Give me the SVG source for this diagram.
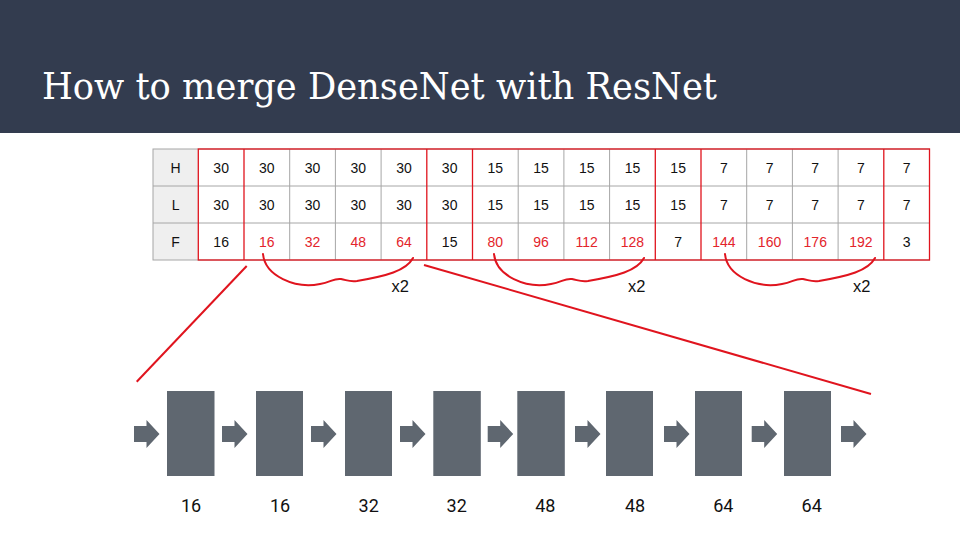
<svg xmlns="http://www.w3.org/2000/svg" xmlns:xlink="http://www.w3.org/1999/xlink" width="960" height="540" viewBox="0 0 960 540">
<style>
.t{font-family:"Liberation Sans",Arial,sans-serif;font-size:14px;fill:#111;text-anchor:middle}
.r{fill:#e3242b}
.g{stroke:#a6a6a6;stroke-width:1;fill:none}
.red{stroke:#e0141e;stroke-width:1.3;fill:none}
.brace{stroke:#e0141e;stroke-width:2;fill:none;stroke-linecap:round}
.conn{stroke:#e0141e;stroke-width:2;fill:none}
.x2{font-family:"Liberation Sans",Arial,sans-serif;font-size:16.5px;fill:#111}
.blk{fill:#5f6770}
.lbl{font-family:Roboto,"Liberation Sans",sans-serif;font-size:18px;fill:#111;text-anchor:middle}
</style>
<defs>
<path id="brace" d="M263,254 C265,276 295,289 320,284 C331,282 334,278 341,279 C347,280 349,282 357,281 C386,276 406,271 413,258"/>
<path id="arr" d="M0,426 H12.5 V420 L25.5,434 L12.5,448 V442 H0 Z"/>
</defs>
<rect x="0" y="0" width="960" height="133" fill="#333c4f"/>
<text x="42" y="99" font-family="'DejaVu Serif','Liberation Serif',serif" font-size="38" fill="#ffffff" textLength="675" lengthAdjust="spacingAndGlyphs">How to merge DenseNet with ResNet</text>

<g id="table">
<rect x="153" y="149" width="45.3" height="111" fill="#efefef"/>
<g class="g">
<rect x="153" y="149" width="776.5" height="111"/>
<line x1="153" y1="186" x2="929.5" y2="186"/>
<line x1="153" y1="223" x2="929.5" y2="223"/>
<path d="M289.7,149V260M335.4,149V260M381.1,149V260M518.2,149V260M563.9,149V260M609.6,149V260M746.7,149V260M792.4,149V260M838.1,149V260"/>
</g>
<g class="red">
<rect x="198.3" y="149" width="731.2" height="111"/>
<path d="M244,149V260M426.8,149V260M472.5,149V260M655.3,149V260M701,149V260M883.8,149V260"/>
</g>
<g class="t">
<text x="175.6" y="173">H</text>
<text x="175.6" y="210">L</text>
<text x="175.6" y="247">F</text>
<text x="221.15" y="173">30</text><text x="266.85" y="173">30</text><text x="312.55" y="173">30</text><text x="358.25" y="173">30</text><text x="403.95" y="173">30</text><text x="449.65" y="173">30</text><text x="495.35" y="173">15</text><text x="541.05" y="173">15</text><text x="586.75" y="173">15</text><text x="632.45" y="173">15</text><text x="678.15" y="173">15</text><text x="723.85" y="173">7</text><text x="769.55" y="173">7</text><text x="815.25" y="173">7</text><text x="860.95" y="173">7</text><text x="906.65" y="173">7</text>
<text x="221.15" y="210">30</text><text x="266.85" y="210">30</text><text x="312.55" y="210">30</text><text x="358.25" y="210">30</text><text x="403.95" y="210">30</text><text x="449.65" y="210">30</text><text x="495.35" y="210">15</text><text x="541.05" y="210">15</text><text x="586.75" y="210">15</text><text x="632.45" y="210">15</text><text x="678.15" y="210">15</text><text x="723.85" y="210">7</text><text x="769.55" y="210">7</text><text x="815.25" y="210">7</text><text x="860.95" y="210">7</text><text x="906.65" y="210">7</text>
<text x="221.15" y="247">16</text><text class="r" x="266.85" y="247">16</text><text class="r" x="312.55" y="247">32</text><text class="r" x="358.25" y="247">48</text><text class="r" x="403.95" y="247">64</text><text x="449.65" y="247">15</text><text class="r" x="495.35" y="247">80</text><text class="r" x="541.05" y="247">96</text><text class="r" x="586.75" y="247">112</text><text class="r" x="632.45" y="247">128</text><text x="678.15" y="247">7</text><text class="r" x="723.85" y="247">144</text><text class="r" x="769.55" y="247">160</text><text class="r" x="815.25" y="247">176</text><text class="r" x="860.95" y="247">192</text><text x="906.65" y="247">3</text>
</g>
</g>

<g id="braces">
<use xlink:href="#brace" href="#brace" class="brace"/>
<use xlink:href="#brace" href="#brace" class="brace" transform="translate(231,0)"/>
<use xlink:href="#brace" href="#brace" class="brace" transform="translate(462,0)"/>
<text class="x2" x="391.5" y="292">x2</text>
<text class="x2" x="628" y="292">x2</text>
<text class="x2" x="853" y="292">x2</text>
</g>

<g id="connectors">
<line class="conn" x1="246.7" y1="266" x2="136.7" y2="381.7"/>
<line class="conn" x1="424" y1="265" x2="871" y2="394"/>
</g>

<g id="arrows" class="blk">
<use xlink:href="#arr" href="#arr" transform="translate(134,0)"/>
<use xlink:href="#arr" href="#arr" transform="translate(222,0)"/>
<use xlink:href="#arr" href="#arr" transform="translate(311,0)"/>
<use xlink:href="#arr" href="#arr" transform="translate(400,0)"/>
<use xlink:href="#arr" href="#arr" transform="translate(487.7,0)"/>
<use xlink:href="#arr" href="#arr" transform="translate(575,0)"/>
<use xlink:href="#arr" href="#arr" transform="translate(664,0)"/>
<use xlink:href="#arr" href="#arr" transform="translate(751.7,0)"/>
<use xlink:href="#arr" href="#arr" transform="translate(841,0)"/>
</g>

<g id="layer1"><rect class="blk" x="167" y="391" width="47.5" height="85"/><text class="lbl" x="191" y="512">16</text></g>
<g id="layer2"><rect class="blk" x="256" y="391" width="47" height="85"/><text class="lbl" x="280" y="512">16</text></g>
<g id="layer3"><rect class="blk" x="345" y="391" width="47" height="85"/><text class="lbl" x="368.7" y="512">32</text></g>
<g id="layer4"><rect class="blk" x="433.3" y="391" width="47.5" height="85"/><text class="lbl" x="456.7" y="512">32</text></g>
<g id="layer5"><rect class="blk" x="517.3" y="391" width="47.5" height="85"/><text class="lbl" x="545.3" y="512">48</text></g>
<g id="layer6"><rect class="blk" x="606" y="391" width="47" height="85"/><text class="lbl" x="635" y="512">48</text></g>
<g id="layer7"><rect class="blk" x="695" y="391" width="47" height="85"/><text class="lbl" x="723.3" y="512">64</text></g>
<g id="layer8"><rect class="blk" x="784" y="391" width="47" height="85"/><text class="lbl" x="811.7" y="512">64</text></g>
</svg>
